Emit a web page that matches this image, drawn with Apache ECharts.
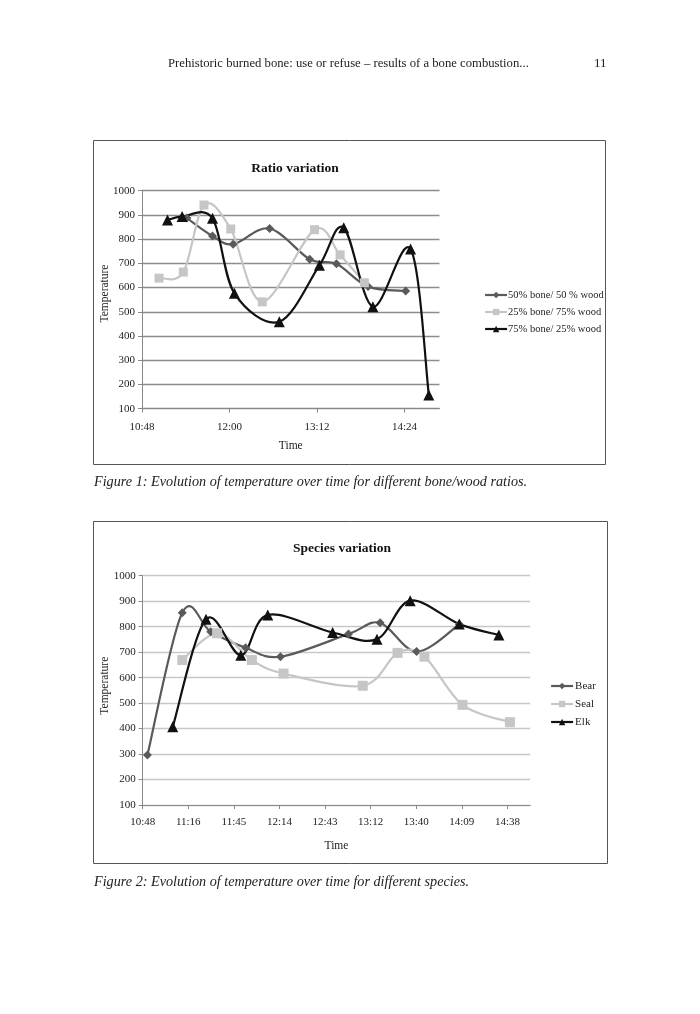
<!DOCTYPE html>
<html>
<head>
<meta charset="utf-8">
<script src="https://cdn.jsdelivr.net/npm/echarts@6/dist/echarts.min.js"></script>
<style>
html,body{margin:0;padding:0;background:#fff;}
#chart{width:700px;height:1014px;}
</style>
</head>
<body>
<div id="chart"></div>
<script>
// ---------- DATA ----------
const AXIS_START = '10:48';
const tempTicks = [100, 200, 300, 400, 500, 600, 700, 800, 900, 1000];

// Figure 1: Ratio variation
const ratioSeriesNames = ['50% bone/ 50 % wood', '25% bone/ 75% wood', '75% bone/ 25% wood'];
const bone50Times = ['11:25', '11:46', '12:03', '12:33', '13:06', '13:28', '13:54', '14:25'];
const bone50Temps = [887, 813, 779, 844, 717, 698, 604, 586];
const bone25Times = ['11:02', '11:22', '11:39', '12:01', '12:27', '13:10', '13:31', '13:51'];
const bone25Temps = [639, 664, 941, 842, 541, 839, 735, 620];
const bone75Times = ['11:09', '11:21', '11:46', '12:04', '12:41', '13:14', '13:34', '13:58', '14:29', '14:44'];
const bone75Temps = [879, 893, 886, 577, 459, 692, 847, 521, 759, 157];
const ratioTimeTicks = ['10:48', '12:00', '13:12', '14:24'];

// Figure 2: Species variation
const speciesNames = ['Bear', 'Seal', 'Elk'];
const bearTimes = ['10:51', '11:13', '11:31', '11:53', '12:15', '12:58', '13:18', '13:41', '14:08'];
const bearTemps = [296, 855, 780, 717, 682, 771, 815, 702, 809];
const sealTimes = ['11:13', '11:35', '11:57', '12:17', '13:07', '13:29', '13:46', '14:10', '14:40'];
const sealTemps = [669, 774, 669, 616, 568, 697, 682, 493, 425];
const elkTimes = ['11:07', '11:28', '11:50', '12:07', '12:48', '13:16', '13:37', '14:08', '14:33'];
const elkTemps = [407, 829, 688, 846, 777, 751, 902, 810, 767];
const speciesTimeTicks = ['10:48', '11:16', '11:45', '12:14', '12:43', '13:12', '13:40', '14:09', '14:38'];

// ---------- HELPERS ----------
function toMin(s) { const p = s.split(':'); return (+p[0]) * 60 + (+p[1]); }
const START = toMin(AXIS_START);
function pairs(times, temps) { return times.map((t, i) => [toMin(t) - START, temps[i]]); }
function fmt(off) {
  const m = Math.floor(Math.round((off + START) * 100) / 100 + 1e-6);
  const h = Math.floor(m / 60), mm = m % 60;
  return h + ':' + (mm < 10 ? '0' : '') + mm;
}
// Axis spans 0.45 .. 0.62 of a day (Excel style): 244.8 minutes
const AXIS_SPAN = 244.8;
const ratioInterval = toMin(ratioTimeTicks[1]) - toMin(ratioTimeTicks[0]);        // 72
const speciesInterval = 28.8; // Excel major unit 0.02 day (labels truncate to minutes)

const SERIF = '"Liberation Serif", "Times New Roman", serif';
const c50 = '#5a5a5a', c25 = '#c6c6c6', c75 = '#111111';
const LW = 2.2;

// Excel-like smoothed line: cubic Bezier through the points (Catmull-Rom, tension 1/6),
// positions obtained from the chart's own scales via api.coord.
function curveSeries(pts, color, xi) {
  return {
    type: 'custom', xAxisIndex: xi, yAxisIndex: xi, z: 2, silent: true, animation: false,
    data: pts, clip: true,
    renderItem: function (params, api) {
      const i = params.dataIndex;
      if (i >= pts.length - 1) return null;
      const P = k => api.coord(pts[Math.max(0, Math.min(pts.length - 1, k))]);
      const p0 = P(i - 1), p1 = P(i), p2 = P(i + 1), p3 = P(i + 2);
      const t = 1 / 6;
      return {
        type: 'bezierCurve',
        shape: {
          x1: p1[0], y1: p1[1], x2: p2[0], y2: p2[1],
          cpx1: p1[0] + (p2[0] - p0[0]) * t, cpy1: p1[1] + (p2[1] - p0[1]) * t,
          cpx2: p2[0] - (p3[0] - p1[0]) * t, cpy2: p2[1] - (p3[1] - p1[1]) * t
        },
        style: { stroke: color, lineWidth: LW, fill: null, lineCap: 'round' }
      };
    }
  };
}
function markerSeries(name, pts, color, symbol, size, xi) {
  return {
    name: name, type: 'line', xAxisIndex: xi, yAxisIndex: xi, z: 2,
    data: pts, symbol: symbol, symbolSize: size, showSymbol: true,
    lineStyle: { color: color, width: LW, opacity: 0 },
    itemStyle: { color: color, borderWidth: 0 },
    emphasis: { disabled: true }, animation: false
  };
}

function xAxis(gi, interval, nameGap, margin) {
  return {
    type: 'value', gridIndex: gi, min: 0, max: AXIS_SPAN, interval: interval,
    name: 'Time', nameLocation: 'middle', nameGap: nameGap,
    nameTextStyle: { fontFamily: SERIF, fontSize: 11.5, color: '#222' },
    axisLine: { show: true, lineStyle: { color: '#888', width: 1 } },
    axisTick: { show: true, length: 4, inside: false, lineStyle: { color: '#888' } },
    axisLabel: {
      fontFamily: SERIF, fontSize: 11, color: '#222', margin: margin, showMaxLabel: false,
      formatter: function (v) {
        const k = v / interval;
        if (Math.abs(k - Math.round(k)) > 1e-6) return '';
        return fmt(v);
      }
    },
    splitLine: { show: false }
  };
}
function yAxis(gi, gridColor) {
  return {
    type: 'value', gridIndex: gi, min: tempTicks[0], max: tempTicks[tempTicks.length - 1], interval: 100,
    axisLine: { show: true, lineStyle: { color: '#888', width: 1 } },
    axisTick: { show: true, length: 4, lineStyle: { color: '#888' } },
    axisLabel: { fontFamily: SERIF, fontSize: 11, color: '#222', margin: 7, formatter: v => String(v) },
    splitLine: { show: true, lineStyle: { color: gridColor, width: 1.3 } }
  };
}

const chart = echarts.init(document.getElementById('chart'), null, { renderer: 'canvas' });
chart.setOption({
  backgroundColor: '#ffffff',
  animation: false,
  title: [
    { text: 'Ratio variation', left: 290, top: 156.5, textAlign: 'center', padding: 5,
      textStyle: { fontFamily: SERIF, fontSize: 13.5, fontWeight: 'bold', color: '#111' } },
    { text: 'Species variation', left: 337, top: 536.5, textAlign: 'center', padding: 5,
      textStyle: { fontFamily: SERIF, fontSize: 13.5, fontWeight: 'bold', color: '#111' } }
  ],
  grid: [
    { left: 142, top: 190.7, width: 297.5, height: 218, containLabel: false },
    { left: 142.7, top: 575.7, width: 387.5, height: 229.3, containLabel: false }
  ],
  xAxis: [xAxis(0, ratioInterval, 31, 13), xAxis(1, speciesInterval, 35, 12)],
  yAxis: [yAxis(0, '#8c8c8c'), yAxis(1, '#c8c8c8')],
  legend: [
    { data: ratioSeriesNames, orient: 'vertical', left: 484, top: 289, padding: 0,
      itemWidth: 22, itemHeight: 8, itemGap: 5, selectedMode: false,
      lineStyle: { width: LW, opacity: 1 },
      textStyle: { fontFamily: SERIF, fontSize: 10.5, color: '#222', lineHeight: 12, padding: [0, 0, 0, -4] } },
    { data: speciesNames, orient: 'vertical', left: 550, top: 680, padding: 0,
      itemWidth: 22, itemHeight: 8, itemGap: 6, selectedMode: false,
      lineStyle: { width: LW, opacity: 1 },
      textStyle: { fontFamily: SERIF, fontSize: 11, color: '#222', lineHeight: 12, padding: [0, 0, 0, -3] } }
  ],
  graphic: [
    { type: 'rect', shape: { x: 93.5, y: 140.5, width: 512, height: 324 },
      style: { fill: null, stroke: '#555', lineWidth: 1 }, silent: true },
    { type: 'rect', shape: { x: 93.5, y: 521.5, width: 514, height: 342 },
      style: { fill: null, stroke: '#555', lineWidth: 1 }, silent: true },
    { type: 'text', x: 105, y: 293.5, rotation: Math.PI / 2, silent: true,
      style: { text: 'Temperature', font: '11.5px ' + SERIF, fill: '#222', textAlign: 'center', textVerticalAlign: 'middle' } },
    { type: 'text', x: 105, y: 685.7, rotation: Math.PI / 2, silent: true,
      style: { text: 'Temperature', font: '11.5px ' + SERIF, fill: '#222', textAlign: 'center', textVerticalAlign: 'middle' } },
    { type: 'text', x: 168, y: 63.5, silent: true,
      style: { text: 'Prehistoric burned bone: use or refuse \u2013 results of a bone combustion...',
        font: '12.7px ' + SERIF, fill: '#222', textVerticalAlign: 'middle' } },
    { type: 'text', x: 594, y: 63.5, silent: true,
      style: { text: '11', font: '13px ' + SERIF, fill: '#222', textVerticalAlign: 'middle' } },
    { type: 'text', x: 94, y: 482.7, silent: true,
      style: { text: 'Figure 1: Evolution of temperature over time for different bone/wood ratios.',
        font: 'italic 14.2px ' + SERIF, fill: '#222', textVerticalAlign: 'middle' } },
    { type: 'text', x: 94, y: 882.7, silent: true,
      style: { text: 'Figure 2: Evolution of temperature over time for different species.',
        font: 'italic 14.2px ' + SERIF, fill: '#222', textVerticalAlign: 'middle' } }
  ],
  series: [
    curveSeries(pairs(bone50Times, bone50Temps), c50, 0),
    markerSeries(ratioSeriesNames[0], pairs(bone50Times, bone50Temps), c50, 'diamond', 9, 0),
    curveSeries(pairs(bone25Times, bone25Temps), c25, 0),
    markerSeries(ratioSeriesNames[1], pairs(bone25Times, bone25Temps), c25, 'rect', 9, 0),
    curveSeries(pairs(bone75Times, bone75Temps), c75, 0),
    markerSeries(ratioSeriesNames[2], pairs(bone75Times, bone75Temps), c75, 'triangle', 11, 0),
    curveSeries(pairs(bearTimes, bearTemps), c50, 1),
    markerSeries(speciesNames[0], pairs(bearTimes, bearTemps), c50, 'diamond', 9, 1),
    curveSeries(pairs(sealTimes, sealTemps), c25, 1),
    markerSeries(speciesNames[1], pairs(sealTimes, sealTemps), c25, 'rect', 10, 1),
    curveSeries(pairs(elkTimes, elkTemps), c75, 1),
    markerSeries(speciesNames[2], pairs(elkTimes, elkTemps), c75, 'triangle', 11, 1)
  ]
});
</script>
</body>
</html>
